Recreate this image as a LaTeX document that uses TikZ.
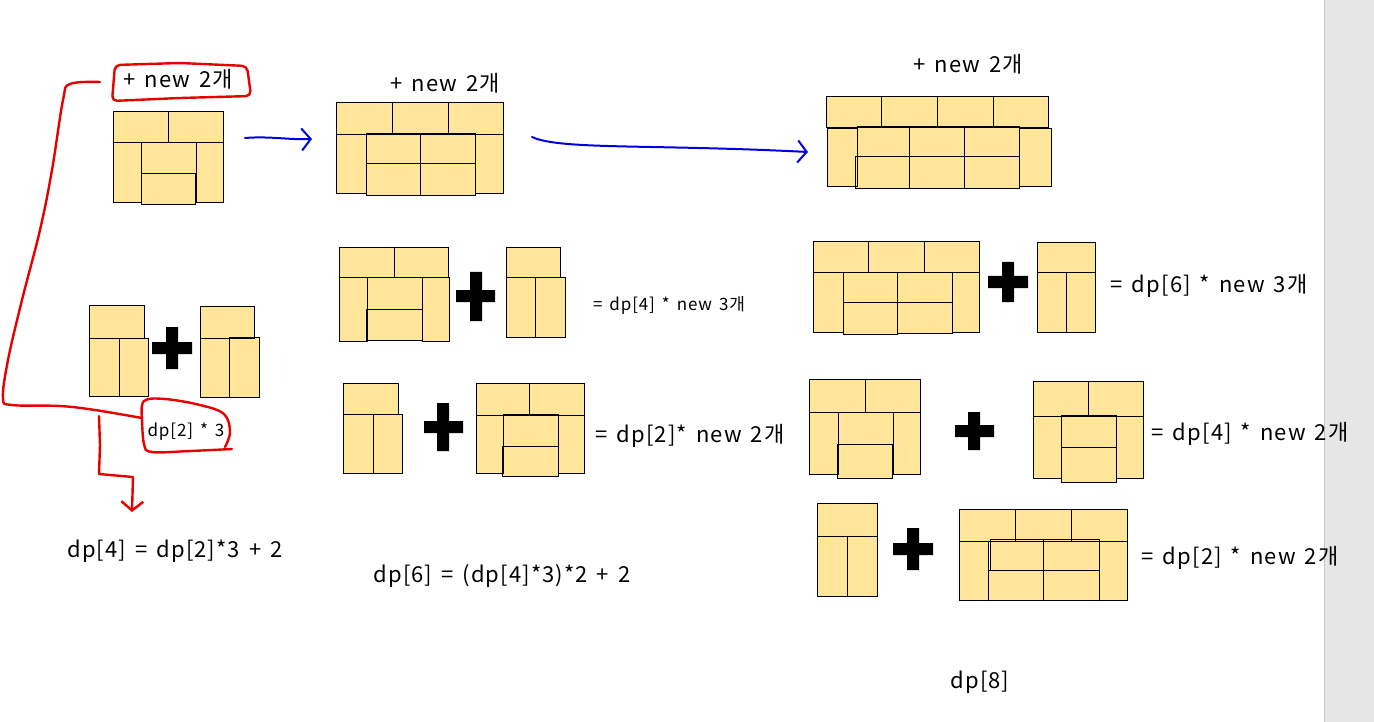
\documentclass[tikz,border=0pt]{standalone}
\usepackage{fontspec}
\setmainfont{Noto Sans CJK KR}[WordSpace=1.5,LetterSpace=5]
\usepackage{tikz}
\usetikzlibrary{arrows.meta}

\definecolor{tilefill}{RGB}{255,229,153}
\definecolor{penred}{RGB}{232,0,0}
\definecolor{penblue}{RGB}{0,0,225}
\definecolor{panelgray}{RGB}{230,230,230}

\begin{document}
\begin{tikzpicture}[x=1pt,y=-1pt,line cap=round]

			\tikzstyle{tile}=[fill=tilefill,draw=black,line width=1pt,line join=miter]
			\tikzstyle{big label}=[font=\fontsize{22}{26}\selectfont,anchor=base,inner sep=0pt]
			\tikzstyle{small label}=[font=\fontsize{17}{20}\selectfont,anchor=base,inner sep=0pt]
			\tikzstyle{red pen}=[draw=penred,line width=2.4pt,line join=round]
			\tikzstyle{blue pen}=[draw=penblue,line width=2pt,-{Straight Barb[length=9pt,width=22pt]}]
			\tikzstyle{cross}=[fill=black]

			\useasboundingbox (0,0) rectangle (1374,722);
			\fill[white] (0,0) rectangle (1374,722);
			\fill[panelgray] (1324,0) rectangle (1374,722);
			\draw[draw={rgb,255:red,200;green,200;blue,200},line width=1pt] (1324,0) -- (1324,722);

			% dp[4] : 3x4
			\path[tile] (113,112) rectangle (168,143) (168,112) rectangle (223,143)
			  (113,143) rectangle (141,203) (196,143) rectangle (223,203)
			  (141,143) rectangle (196,174) (141,174) rectangle (195,205);
			% dp[6] : 3x6
			\path[tile] (336,103) rectangle (392,135) (392,103) rectangle (448,135) (448,103) rectangle (503,135)
			  (336,135) rectangle (366,194) (475,135) rectangle (503,194)
			  (366,134) rectangle (420,164) (420,134) rectangle (475,164)
			  (366,164) rectangle (420,196) (420,164) rectangle (475,196);
			% dp[8] : 3x8
			\path[tile] (826,97) rectangle (881,128) (881,97) rectangle (937,128) (937,97) rectangle (993,128) (993,97) rectangle (1048,128)
			  (827,129) rectangle (857,187) (1019,129) rectangle (1051,187)
			  (857,127) rectangle (909,157) (909,127) rectangle (964,157) (964,127) rectangle (1019,157)
			  (855,157) rectangle (909,189) (909,157) rectangle (964,189) (964,157) rectangle (1019,189);

			% dp[2] + dp[2]
			\path[tile] (89,305) rectangle (144,338) (89,338) rectangle (119,396) (119,338) rectangle (148,396);
			\path[tile] (200,306) rectangle (254,338) (200,338) rectangle (229,397) (229,337) rectangle (259,397);
			\fill[cross] (152,342) rectangle (192,354) (166,327) rectangle (178,369);

			% dp[4] + dp[2]
			\path[tile] (339,248) rectangle (394,278) (394,248) rectangle (448,278)
			  (339,278) rectangle (367,341) (422,278) rectangle (449,341)
			  (367,278) rectangle (422,309) (366,309) rectangle (422,340);
			\fill[cross] (456,290) rectangle (495,302) (470,272) rectangle (482,321);
			\path[tile] (506,248) rectangle (560,278) (506,278) rectangle (535,337) (535,278) rectangle (565,337);

			% dp[2] + dp[4]
			\path[tile] (343,383) rectangle (398,414) (343,414) rectangle (373,473) (373,414) rectangle (402,473);
			\fill[cross] (424,421) rectangle (463,433) (437,403) rectangle (449,451);
			\path[tile] (476,383) rectangle (529,415) (529,383) rectangle (584,415)
			  (476,415) rectangle (503,473) (558,415) rectangle (584,473)
			  (503,414) rectangle (558,446) (502,446) rectangle (558,476);

			% dp[6] + dp[2]
			\path[tile] (813,242) rectangle (868,273) (868,242) rectangle (924,273) (924,242) rectangle (979,273)
			  (813,273) rectangle (843,332) (952,273) rectangle (979,332)
			  (843,273) rectangle (897,302) (897,273) rectangle (952,302)
			  (843,302) rectangle (897,334) (897,302) rectangle (952,333);
			\fill[cross] (988,276) rectangle (1028,288) (1002,262) rectangle (1014,302);
			\path[tile] (1037,243) rectangle (1095,273) (1037,273) rectangle (1066,332) (1066,273) rectangle (1095,332);

			% dp[4] + dp[4]
			\path[tile] (809,379) rectangle (865,412) (865,379) rectangle (920,412)
			  (809,412) rectangle (838,474) (893,412) rectangle (920,474)
			  (838,412) rectangle (893,444) (837,444) rectangle (892,478);
			\fill[cross] (955,425) rectangle (994,437) (968,412) rectangle (980,450);
			\path[tile] (1033,381) rectangle (1088,416) (1088,381) rectangle (1143,416)
			  (1033,416) rectangle (1061,478) (1116,416) rectangle (1143,478)
			  (1061,415) rectangle (1116,447) (1061,447) rectangle (1116,482);

			% dp[2] + dp[6]
			\path[tile] (817,503) rectangle (877,536) (817,536) rectangle (847,596) (847,536) rectangle (877,596);
			\fill[cross] (893,543) rectangle (933,555) (907,528) rectangle (919,570);
			\path[tile] (959,509) rectangle (1015,541) (1015,509) rectangle (1071,541) (1071,509) rectangle (1127,541)
			  (959,541) rectangle (988,600) (1099,541) rectangle (1127,600)
			  (990,539) rectangle (1043,570) (1043,539) rectangle (1099,570)
			  (988,570) rectangle (1043,600) (1043,570) rectangle (1099,600);

			\node[big label]   (new1) at (178,88)   {+ new 2개};
			\node[big label]   (new2) at (445,92)   {+ new 2개};
			\node[big label]   (new3) at (968,73)   {+ new 2개};
			\node[small label] (dptwo) at (186,436) {dp[2] * 3};
			\node[small label] (eq1) at (669,310)   {= dp[4] * new 3개};
			\node[big label]   (eq2) at (690,442)   {= dp[2]* new 2개};
			\node[big label]   (eq3) at (1209,292)  {= dp[6] * new 3개};
			\node[big label]   (eq4) at (1250,440)  {= dp[4] * new 2개};
			\node[big label]   (eq5) at (1240,564)  {= dp[2] * new 2개};
			\node[big label]   (rec4) at (175,557)  {dp[4] = dp[2]*3 + 2};
			\node[big label]   (rec6) at (502,582)  {dp[6] = (dp[4]*3)*2 + 2};
			\node[big label]   (rec8) at (980,688)  {dp[8]};

			\coordinate (a1) at (245,138);
			\coordinate (a2) at (312,139);
			\coordinate (b1) at (532,137);
			\coordinate (b2) at (808,152);
			\draw[blue pen] (a1) .. controls (270,136) and (290,140) .. (a2);
			\draw[blue pen] (b1) .. controls (560,150) and (650,144) .. (b2);

			%red marks
			\draw[red pen, rounded corners=5pt] (115,65) -- (180,63) -- (247,66) -- (251,96) -- (180,98) -- (112,101) -- cycle;
			\draw[red pen] plot[smooth,tension=0.6] coordinates {(100,82) (70,84) (63,100) (52,170) (40,230) (22,300) (8,360) (3,398) (12,405) (60,406) (95,410) (142,418)};
			\draw[red pen] plot[smooth,tension=0.6] coordinates {(142,418) (144,401) (165,399) (200,405) (224,414) (230,432) (225,447)};
			\draw[red pen] plot[smooth,tension=0.6] coordinates {(142,418) (144,444) (152,452) (190,451) (232,449)};
			\coordinate (c1) at (99,416);
			\coordinate (c2) at (132,512);
			\draw[red pen,-{Straight Barb[length=9pt,width=22pt]}] (c1) -- (100,445) -- (99,474) -- (133,477) -- (c2);

\end{tikzpicture}
\end{document}
